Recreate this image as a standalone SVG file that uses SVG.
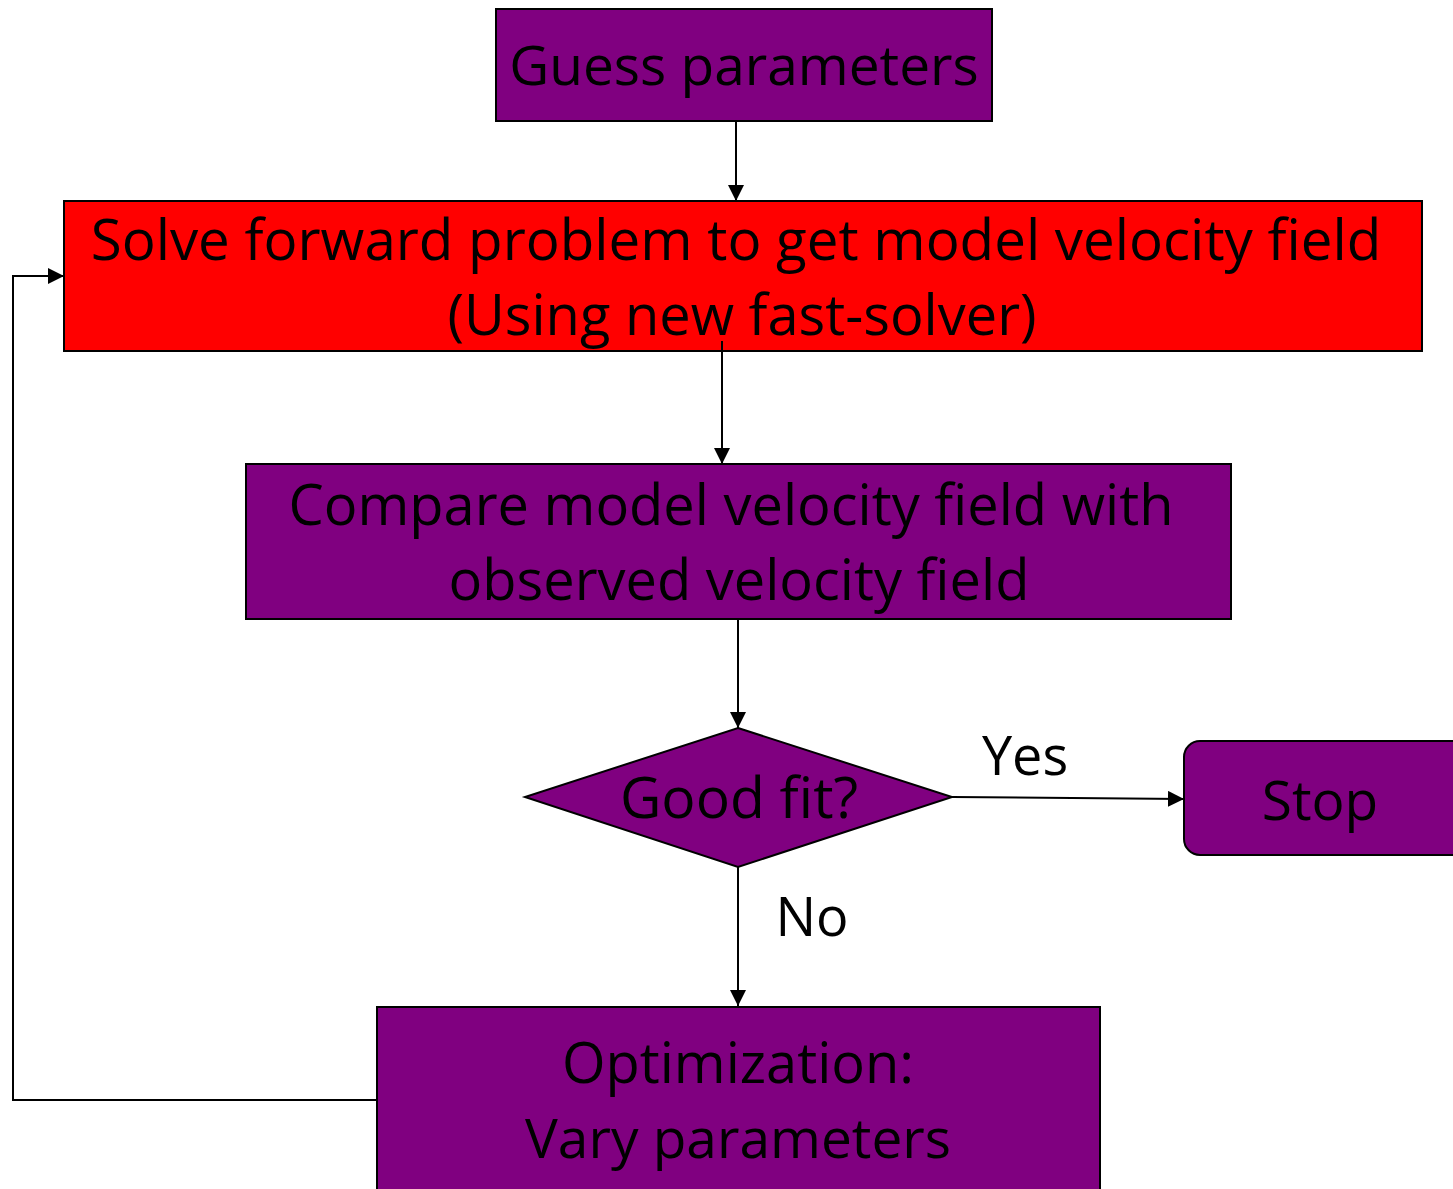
<svg xmlns="http://www.w3.org/2000/svg" width="1453" height="1189" viewBox="0 0 1453 1189">
  <style>
    .box { fill: #800080; stroke: #000; stroke-width: 2; }
    .red { fill: #ff0000; stroke: #000; stroke-width: 2; }
    .lbl { font-family: "Open Sans", "Noto Sans", sans-serif; fill: #000; text-anchor: middle; }
    .edge { fill: none; stroke: #000; stroke-width: 2; }
  </style>
  <defs>
    <marker id="arrowL" viewBox="0 0 10 10" refX="10" refY="5" markerWidth="16" markerHeight="16" markerUnits="userSpaceOnUse" orient="auto">
      <path d="M0,0 L10,5 L0,10 Z" fill="#000"/>
    </marker>
  </defs>

  <rect width="1453" height="1189" fill="#fff"/>

  <g id="guess">
    <rect class="box" x="496" y="9" width="496" height="112"/>
    <text class="lbl" x="744" y="85" font-size="55">Guess parameters</text>
  </g>

  <g id="solve">
    <rect class="red" x="64" y="201" width="1358" height="150"/>
    <text class="lbl" x="736" y="260" font-size="56.5">Solve forward problem to get model velocity field</text>
    <text class="lbl" x="742" y="335" font-size="56">(Using new fast-solver)</text>
  </g>

  <g id="compare">
    <rect class="box" x="246" y="464" width="985" height="155"/>
    <text class="lbl" x="731" y="525" font-size="56">Compare model velocity field with</text>
    <text class="lbl" x="739" y="600" font-size="56">observed velocity field</text>
  </g>

  <g id="goodfit">
    <polygon class="box" points="738,728 952,797 738,867 525,797"/>
    <text class="lbl" x="739" y="818" font-size="57">Good fit?</text>
  </g>

  <g id="stop">
    <rect class="box" x="1184" y="741" width="290" height="114" rx="16" ry="16"/>
    <text class="lbl" x="1320" y="820" font-size="55">Stop</text>
  </g>

  <g id="optimize">
    <rect class="box" x="377" y="1007" width="723" height="200"/>
    <text class="lbl" x="738" y="1083" font-size="56">Optimization:</text>
    <text class="lbl" x="738" y="1158" font-size="55">Vary parameters</text>
  </g>

  <g id="connectors">
    <line class="edge" x1="736" y1="121" x2="736" y2="201" marker-end="url(#arrowL)"/>
    <line class="edge" x1="722" y1="341" x2="722" y2="464" marker-end="url(#arrowL)"/>
    <line class="edge" x1="738" y1="619" x2="738" y2="728" marker-end="url(#arrowL)"/>
    <line class="edge" x1="952" y1="797" x2="1184" y2="799" marker-end="url(#arrowL)"/>
    <line class="edge" x1="738" y1="867" x2="738" y2="1006" marker-end="url(#arrowL)"/>
    <polyline class="edge" points="377,1100 13,1100 13,276 64,276" marker-end="url(#arrowL)"/>
    <text class="lbl" x="1025" y="775" font-size="54">Yes</text>
    <text class="lbl" x="812" y="936" font-size="54">No</text>
  </g>
</svg>
